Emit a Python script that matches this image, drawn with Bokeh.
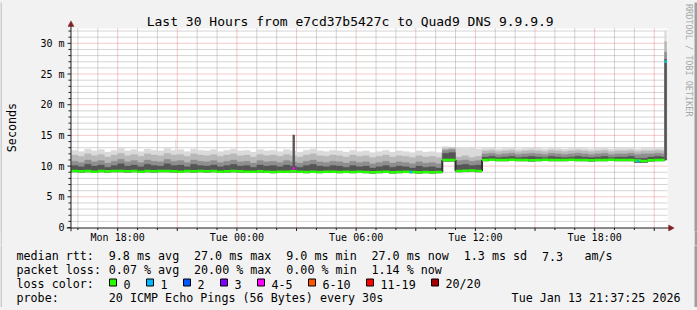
import math
import pandas as pd
from bokeh.plotting import figure
from bokeh.layouts import column, row
from bokeh.models import Range1d, FixedTicker, DatetimeTickFormatter
from bokeh.core.properties import value
from bokeh.embed import file_html
from bokeh.resources import INLINE

# ---------------- data ----------------
TITLE = "Last 30 Hours from e7cd37b5427c to Quad9 DNS 9.9.9.9"
Y_LABEL = "Seconds"
SIDE_TEXT = "RRDTOOL / TOBI OETIKER"
x_view = ["2026-01-12 15:40:30", "2026-01-13 21:40:30"]   # time span of the white canvas
y_view = [0, 32.43]                                         # ms span of the white canvas
y_ticks = [0, 5, 10, 15, 20, 25, 30]
y_tick_labels = ["0", "5 m", "10 m", "15 m", "20 m", "25 m", "30 m"]
x_label_times = ["2026-01-12 18:00", "2026-01-13 00:00", "2026-01-13 06:00",
                 "2026-01-13 12:00", "2026-01-13 18:00"]
x_major_grid_times = ["2026-01-12 18:00", "2026-01-12 21:00", "2026-01-13 00:00",
                      "2026-01-13 03:00", "2026-01-13 06:00", "2026-01-13 09:00",
                      "2026-01-13 12:00", "2026-01-13 15:00", "2026-01-13 18:00",
                      "2026-01-13 21:00"]

# 20 minute bins from Mon 15:40 up to Tue 21:20, then two short final bins
extra_edges = ["2026-01-13 21:31", "2026-01-13 21:37:25"]

median_ms = [
    9.2, 9.15, 9.2, 9.1, 9.2, 9.15, 9.2, 9.2, 9.15, 9.2,
    9.1, 9.2, 9.15, 9.2, 9.2, 9.15, 9.1, 9.2, 9.15, 9.2,
    9.15, 9.2, 9.1, 9.15, 9.2, 9.15, 9.1, 9.1, 9.15, 9.1,
    9.05, 9.1, 9.1, 9.15, 9.1, 9.05, 9.1, 9.05, 9.1, 9.1,
    9.05, 9.1, 9.05, 9.1, 9.05, 9.0, 9.05, 9.1, 9.0, 9.05,
    9.1, 9.05, 9.0, 9.05, 9.0, 9.05,
    11.0, 11.0,
    9.2, 9.25, 9.3, 9.2,
    11.0, 11.05, 11.0, 11.0, 11.05, 11.0, 11.0, 10.95, 11.0, 11.05,
    11.0, 11.0, 11.0, 11.05, 11.0, 11.0, 10.95, 11.0, 11.0, 11.05,
    11.0, 11.0, 11.0, 10.9, 10.85, 10.95, 11.0,
    11.0, 27.0]
ping_min_ms = [
    9.05, 9.0, 9.05, 8.95, 9.05, 9.0, 9.05, 9.05, 9.0, 9.05,
    8.95, 9.05, 9.0, 9.05, 9.05, 9.0, 8.95, 9.05, 9.0, 9.05,
    9.0, 9.05, 8.95, 9.0, 9.05, 9.0, 8.95, 8.95, 9.0, 8.95,
    8.9, 8.95, 8.95, 9.0, 8.95, 8.9, 8.95, 8.9, 8.95, 8.95,
    8.9, 8.95, 8.9, 8.95, 8.9, 8.85, 8.9, 8.95, 8.85, 8.9,
    8.95, 8.9, 8.85, 8.9, 8.85, 8.9,
    10.8, 10.8,
    9.05, 9.1, 9.15, 9.05,
    10.85, 10.9, 10.85, 10.85, 10.9, 10.85, 10.85, 10.8, 10.85, 10.9,
    10.85, 10.85, 10.85, 10.9, 10.85, 10.85, 10.8, 10.85, 10.85, 10.9,
    10.85, 10.85, 10.85, 10.6, 10.6, 10.8, 10.85,
    10.85, 11.0]
smoke_q4_ms = [
    10.1, 9.9, 10.3, 10.0, 10.2, 9.8, 10.1, 10.4, 10.0, 10.2,
    9.9, 10.3, 10.1, 10.0, 10.4, 10.1, 10.2, 9.9, 10.3, 10.1,
    10.0, 10.2, 9.9, 10.1, 10.3, 10.0, 10.1, 9.8, 10.2, 10.0,
    10.1, 9.9, 10.2, 10.0, 9.8, 10.1, 10.3, 10.0, 9.9, 10.1,
    10.0, 9.8, 10.1, 9.9, 10.0, 9.7, 9.9, 10.1, 9.8, 10.0,
    9.9, 9.7, 10.0, 9.8, 9.9, 9.7,
    12.1, 12.2,
    10.2, 10.3, 10.1, 10.2,
    11.5, 11.6, 11.4, 11.5, 11.6, 11.4, 11.5, 11.6, 11.5, 11.4,
    11.6, 11.5, 11.4, 11.5, 11.6, 11.5, 11.4, 11.5, 11.6, 11.4,
    11.5, 11.5, 11.6, 11.3, 11.3, 11.5, 11.6,
    11.5, 27.4]
smoke_q3_ms = [
    10.8, 10.6, 11.0, 10.7, 10.9, 10.5, 10.8, 11.1, 10.7, 10.9,
    10.6, 11.0, 10.8, 10.7, 11.1, 10.8, 10.9, 10.6, 11.0, 10.8,
    10.7, 10.9, 10.6, 10.8, 11.0, 10.7, 10.8, 10.5, 10.9, 10.7,
    10.8, 10.6, 10.9, 10.7, 10.5, 10.8, 11.0, 10.7, 10.6, 10.8,
    10.7, 10.5, 10.8, 10.6, 10.7, 10.4, 10.6, 10.8, 10.5, 10.7,
    10.6, 10.4, 10.7, 10.5, 10.6, 10.4,
    12.6, 12.7,
    10.9, 11.0, 10.8, 10.9,
    12.0, 12.1, 11.9, 12.0, 12.1, 11.9, 12.0, 12.1, 12.0, 11.9,
    12.1, 12.0, 11.9, 12.0, 12.1, 12.0, 11.9, 12.0, 12.1, 11.9,
    12.0, 12.0, 12.1, 11.9, 12.0, 12.0, 12.1,
    12.0, 28.6]
smoke_q2_ms = [
    11.8, 11.6, 12.0, 11.7, 11.9, 11.5, 11.8, 12.1, 11.7, 11.9,
    11.6, 12.0, 11.8, 11.7, 12.1, 11.8, 11.9, 11.6, 12.0, 11.8,
    11.7, 11.9, 11.6, 11.8, 12.0, 11.7, 11.8, 11.5, 11.9, 11.7,
    11.8, 11.6, 11.9, 11.7, 11.5, 11.8, 12.0, 11.7, 11.6, 11.8,
    11.7, 11.5, 11.8, 11.6, 11.7, 11.4, 11.6, 11.8, 11.5, 11.7,
    11.6, 11.4, 11.7, 11.5, 11.6, 11.4,
    12.9, 13.0,
    11.5, 11.7, 11.4, 11.6,
    12.5, 12.6, 12.4, 12.5, 12.6, 12.4, 12.5, 12.6, 12.5, 12.4,
    12.6, 12.5, 12.4, 12.5, 12.6, 12.5, 12.4, 12.5, 12.6, 12.4,
    12.5, 12.5, 12.6, 12.4, 12.5, 12.5, 12.6,
    12.5, 30.3]
ping_max_ms = [
    12.6, 12.4, 12.8, 12.5, 12.7, 12.3, 12.6, 12.9, 12.5, 12.7,
    12.4, 12.8, 12.6, 12.5, 12.9, 12.6, 12.7, 12.4, 12.8, 12.6,
    12.5, 12.7, 12.4, 12.6, 12.8, 12.5, 12.6, 12.3, 12.7, 12.5,
    12.6, 12.4, 12.7, 12.5, 12.3, 12.6, 12.8, 12.5, 12.4, 12.6,
    12.5, 12.3, 12.6, 12.4, 12.5, 12.2, 12.4, 12.6, 12.3, 12.5,
    12.4, 12.2, 12.5, 12.3, 12.4, 12.2,
    13.2, 13.1,
    13.0, 12.9, 13.1, 12.8,
    12.9, 13.0, 12.8, 12.9, 13.0, 12.8, 12.9, 13.0, 12.9, 12.8,
    13.0, 12.9, 12.8, 12.9, 13.0, 12.9, 12.8, 12.9, 13.0, 12.8,
    12.9, 12.9, 13.0, 12.8, 12.9, 12.9, 13.0,
    12.9, 32.1]

# short spikes in the smoke (start, end, low, high, smoke layer 1=outer..4=inner)
spike_start = ["2026-01-13 02:48", "2026-01-12 20:54"]
spike_end = ["2026-01-13 02:55", "2026-01-12 20:57"]
spike_low = [9.4, 12.3]
spike_high = [15.1, 14.3]
spike_layer = [4, 1]

# steps where packets were lost (start, end, median rtt, lost pings of 20)
loss_start = ["2026-01-13 02:48", "2026-01-13 08:42", "2026-01-13 20:07", "2026-01-13 21:31"]
loss_end = ["2026-01-13 02:55", "2026-01-13 08:49", "2026-01-13 20:14", "2026-01-13 21:37:25"]
loss_rtt = [9.6, 9.05, 10.85, 27.0]
loss_lost = [4, 1, 1, 1]

legend_loss_labels = ["0", "1", "2", "3", "4-5", "6-10", "11-19", "20/20"]
legend_loss_max = [0, 1, 2, 3, 5, 10, 19, 20]
legend_row_rtt = ["median rtt:", "9.8 ms avg", "27.0 ms max", "9.0 ms min", "27.0 ms now",
                  "1.3 ms sd", "7.3", "am/s"]
legend_row_loss = ["packet loss:", "0.07 % avg", "20.00 % max", "0.00 % min", "1.14 % now"]
legend_row_color = ["loss color:"]
legend_row_probe = ["probe:", "20 ICMP Echo Pings (56 Bytes) every 30s"]
stamp = "Tue Jan 13 21:37:25 2026"

# ---------------- styles / layout ----------------
FONT = "DejaVu Sans Mono"
LOSS_COLORS = ["#26ff00", "#00b8ff", "#0059ff", "#7e00ff", "#ff00ff", "#ff5500", "#ff0000", "#a10000"]
SMOKE = {1: "#dadada", 2: "#b8b8b8", 3: "#8e8e8e", 4: "#555555"}
BACK = "#f2f2f2"
SHADE_A = "#cfcfcf"
SHADE_B = "#9e9e9e"
AXIS = "#1f1f1f"
ARROW = "#801f1f"
GRID = "#8f8f8f"
MGRID = "#de4f4f"
LEG_SIZE = "11.7px"
CHAR = 7.1
row_cols = {0: [0, 13, 25, 38, 50, 63, 74, 80], 1: [0, 13, 25, 38, 50], 3: [0, 13]}
LEG_BASE = 255.5      # baseline of first legend row (page px)
LEG_STEP = 14

PXMS = 185 / 30          # pixels per millisecond
SPX = 180                # seconds per pixel
T0 = pd.Timestamp(x_view[0])   # sits on page x = 67


def X(px):
    """page x pixel -> time (for decorations only)"""
    return T0 + pd.Timedelta(seconds=(px - 67) * SPX)


def Y(py):
    """page y pixel -> ms (for decorations only)"""
    return (228 - py) / PXMS


def LY(py):
    """page y pixel -> legend panel units (0 at page y 307, up)"""
    return 307 - py


def loss_color(k):
    for mx, c in zip(legend_loss_max, LOSS_COLORS):
        if k <= mx:
            return c
    return LOSS_COLORS[-1]


ts = pd.Timestamp

edges = list(pd.date_range("2026-01-12 15:40", "2026-01-13 21:20", freq="20min")) + [ts(t) for t in extra_edges]
bin_start, bin_end = edges[:-1], edges[1:]
n = len(bin_start)
for arr in (median_ms, ping_min_ms, smoke_q4_ms, smoke_q3_ms, smoke_q2_ms, ping_max_ms):
    assert len(arr) == n, (len(arr), n)


def strip(w, h, color):
    return figure(width=w, height=h, output_backend="svg", toolbar_location=None,
                  x_axis_type=None, y_axis_type=None,
                  min_border_left=0, min_border_right=0, min_border_top=0, min_border_bottom=0,
                  background_fill_color=color, border_fill_color=color, outline_line_color=None,
                  x_range=Range1d(0, 1), y_range=Range1d(0, 1))


# ---------------- main plot (page x 2..694, y 2..245) ----------------
p = figure(width=692, height=243, x_axis_type="datetime",
           x_range=Range1d(X(62), X(694)), y_range=Range1d(Y(232), Y(2)),
           output_backend="svg", toolbar_location=None,
           min_border_left=60, min_border_right=0, min_border_top=0, min_border_bottom=13,
           background_fill_color=BACK, border_fill_color=BACK, outline_line_color=None)
p.xgrid.visible = False
p.ygrid.visible = False

xa = p.xaxis[0]
xa.ticker = FixedTicker(ticks=[ts(t).value / 1e6 for t in x_label_times], minor_ticks=[])
fmt = "%a %H:%M"
xa.formatter = DatetimeTickFormatter(microseconds=fmt, milliseconds=fmt, seconds=fmt, minsec=fmt,
                                     minutes=fmt, hourmin=fmt, hours=fmt, days=fmt, months=fmt, years=fmt)
ya = p.yaxis[0]
ya.ticker = FixedTicker(ticks=y_ticks, minor_ticks=[])
ya.major_label_overrides = {t: l for t, l in zip(y_ticks, y_tick_labels)}
ya.axis_label = Y_LABEL + "\u00a0\u00a0\u00a0"
ya.axis_label_text_font = FONT
ya.axis_label_text_font_size = LEG_SIZE
ya.axis_label_text_font_style = "normal"
ya.axis_label_text_color = "black"
ya.axis_label_standoff = 18
for ax in (xa, ya):
    ax.axis_line_color = None
    ax.major_tick_line_color = None
    ax.minor_tick_line_color = None
    ax.major_tick_out = 0
    ax.major_tick_in = 0
    ax.minor_tick_out = 0
    ax.minor_tick_in = 0
    ax.major_label_text_font = FONT
    ax.major_label_text_font_size = "10px"
    ax.major_label_text_color = "black"
ya.major_label_standoff = 2
xa.major_label_standoff = 0

# white canvas
p.quad(left=[ts(x_view[0])], right=[ts(x_view[1])], bottom=[y_view[0]], top=[y_view[1]],
       fill_color="white", line_color=None)

# grid (rrdtool style dotted)
major_x = [ts(t) for t in x_major_grid_times]
hours = pd.date_range("2026-01-12 16:00", "2026-01-13 21:00", freq="1h")
minor_x = [h for h in hours if h not in major_x]
minor_y = [v for v in range(1, 33) if v % 5 != 0]
major_y = [v for v in y_ticks if v > 0]
p.segment(x0=minor_x, y0=y_view[0], x1=minor_x, y1=y_view[1],
          line_color=GRID, line_alpha=0.75, line_dash="1 1", line_width=1)
p.segment(x0=ts(x_view[0]), y0=minor_y, x1=ts(x_view[1]), y1=minor_y,
          line_color=GRID, line_alpha=0.75, line_dash="1 1", line_width=1)
p.segment(x0=major_x, y0=y_view[0], x1=major_x, y1=y_view[1],
          line_color=MGRID, line_alpha=0.6, line_dash="1 1", line_width=1)
p.segment(x0=ts(x_view[0]), y0=major_y, x1=ts(x_view[1]), y1=major_y,
          line_color=MGRID, line_alpha=0.6, line_dash="1 1", line_width=1)

# smoke (outer -> inner)
for layer, tops in ((1, ping_max_ms), (2, smoke_q2_ms), (3, smoke_q3_ms), (4, smoke_q4_ms)):
    p.quad(left=bin_start, right=bin_end, bottom=ping_min_ms, top=tops,
           fill_color=SMOKE[layer], line_color=SMOKE[layer], line_width=0.3)
p.quad(left=[ts(t) for t in spike_start], right=[ts(t) for t in spike_end],
       bottom=spike_low, top=spike_high,
       fill_color=[SMOKE[k] for k in spike_layer], line_color=None)

# dark vertical joins where the median jumps
jx, jy0, jy1 = [], [], []
for i in range(n - 2):
    if abs(median_ms[i + 1] - median_ms[i]) > 1:
        jx.append(bin_end[i]); jy0.append(median_ms[i]); jy1.append(median_ms[i + 1])
p.segment(x0=jx, y0=jy0, x1=jx, y1=jy1, line_color="#303030", line_width=2)

# median line coloured by loss
p.segment(x0=bin_start, y0=median_ms, x1=bin_end, y1=median_ms,
          line_color=LOSS_COLORS[0], line_width=2.5)
p.segment(x0=[ts(t) for t in loss_start], y0=loss_rtt, x1=[ts(t) for t in loss_end], y1=loss_rtt,
          line_color=[loss_color(k) for k in loss_lost], line_width=2.5)

# axis lines, ticks and arrows (rrdtool style)
p.segment(x0=X(66.5), y0=Y(232), x1=X(66.5), y1=Y(24), line_color=AXIS, line_width=1)
p.segment(x0=X(62), y0=Y(228.5), x1=X(670), y1=Y(228.5), line_color=AXIS, line_width=1)
p.segment(x0=X(63), y0=major_y + [0], x1=X(66.5), y1=major_y + [0], line_color=AXIS, line_width=1)
p.segment(x0=X(64), y0=minor_y, x1=X(66.5), y1=minor_y, line_color=AXIS, line_width=1)
p.segment(x0=major_x, y0=Y(228.5), x1=major_x, y1=Y(231.5), line_color=AXIS, line_width=1)
p.segment(x0=minor_x, y0=Y(228.5), x1=minor_x, y1=Y(230.5), line_color=AXIS, line_width=1)
p.patches(xs=[[X(66.5), X(63.5), X(69.5)], [X(673.5), X(668), X(668)]],
          ys=[[Y(20.5), Y(26), Y(26)], [Y(228.5), Y(225.5), Y(231.5)]],
          fill_color=ARROW, line_color=ARROW, line_width=0.5)

# title and side text
p.text(x=[X(347.5)], y=[Y(21.5)], text=[TITLE], text_font=value(FONT), text_font_size=value("13px"),
       text_align="center", text_baseline="alphabetic", text_color="black")
p.text(x=[X(688)], y=[Y(60)], text=[SIDE_TEXT], angle=-math.pi / 2, text_font=value(FONT),
       text_font_size=value("8.5px"), text_align="center", text_baseline="middle", text_color="#a8a8a8")

# ---------------- legend (page x 2..694, y 245..307) ----------------
q = figure(width=692, height=62, x_range=Range1d(2, 694), y_range=Range1d(0, 62),
           output_backend="svg", toolbar_location=None,
           x_axis_type=None, y_axis_type=None,
           min_border_left=0, min_border_right=0, min_border_top=0, min_border_bottom=0,
           background_fill_color=BACK, border_fill_color=BACK, outline_line_color=None)
lx, ly, lt = [], [], []
for r, items in ((0, legend_row_rtt), (1, legend_row_loss), (2, legend_row_color), (3, legend_row_probe)):
    cols = row_cols.get(r, [0])
    for c, t in zip(cols, items):
        lx.append(16 + c * CHAR); ly.append(LY(LEG_BASE + LEG_STEP * r)); lt.append(t)
q.text(x=lx, y=ly, text=lt, text_font=value(FONT), text_font_size=value(LEG_SIZE),
       text_baseline="alphabetic", text_align="left", text_color="black")
q.text(x=[680], y=[LY(LEG_BASE + 3 * LEG_STEP)], text=[stamp], text_font=value(FONT),
       text_font_size=value(LEG_SIZE), text_baseline="alphabetic", text_align="right", text_color="black")
bxs, btx = [], []
bx = 109
for lab in legend_loss_labels:
    bxs.append(bx); btx.append(bx + 14)
    bx += 30 + 7 * len(lab)
q.quad(left=bxs, right=[b + 7 for b in bxs], top=[LY(278.5)] * len(bxs), bottom=[LY(285.5)] * len(bxs),
       fill_color=LOSS_COLORS, line_color="black", line_width=1)
q.text(x=btx, y=[LY(LEG_BASE + 2 * LEG_STEP)] * len(btx), text=legend_loss_labels, text_font=value(FONT),
       text_font_size=value(LEG_SIZE), text_baseline="alphabetic", text_align="left", text_color="black")

top_strip = strip(697, 2, SHADE_A)
bottom_strip = strip(697, 3, SHADE_B)
left_strip = strip(2, 243, SHADE_A)
right_strip = strip(3, 243, SHADE_B)
left_strip2 = strip(2, 62, SHADE_A)
right_strip2 = strip(3, 62, SHADE_B)

bg = {"background-color": BACK}
layout = column(top_strip,
                row(left_strip, p, right_strip, styles=bg),
                row(left_strip2, q, right_strip2, styles=bg),
                bottom_strip, styles=bg)
open("out.html", "w").write(file_html(layout, INLINE))
